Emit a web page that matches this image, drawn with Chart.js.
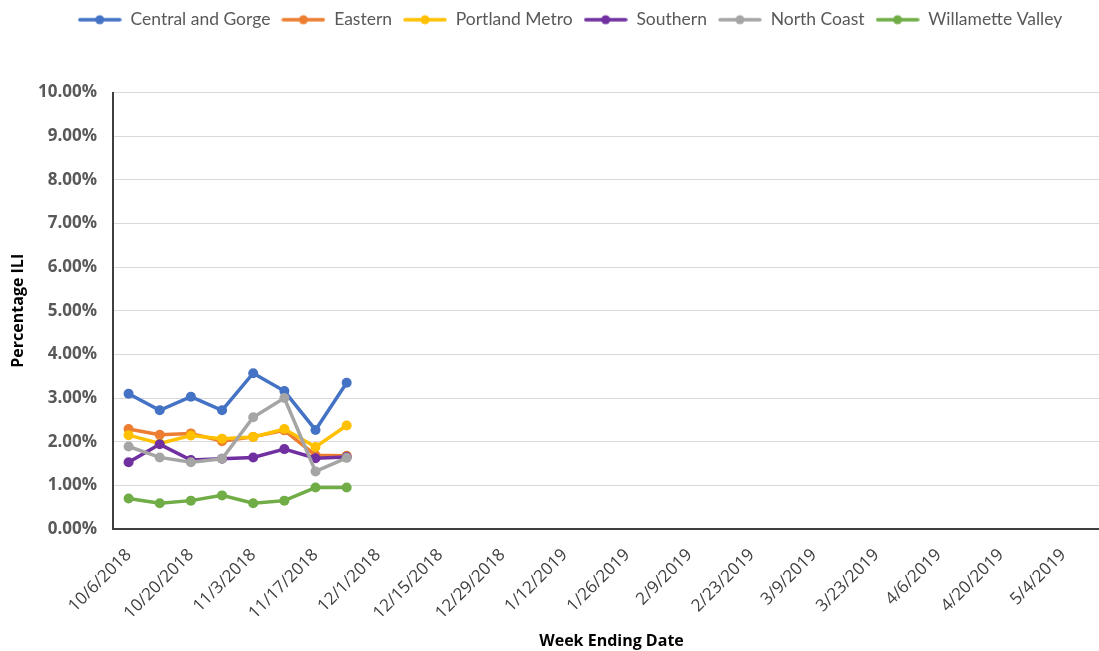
<!DOCTYPE html>
<html>
<head>
<meta charset="utf-8">
<script src="https://cdn.jsdelivr.net/npm/chart.js@4/dist/chart.umd.min.js"></script>
<style>
  html, body { margin: 0; padding: 0; background: #fff; overflow: hidden; }
  #wrap { width: 1140px; height: 651px; position: relative; }
</style>
</head>
<body>
<div id="wrap"><canvas id="c" width="1140" height="651"></canvas></div>
<script>
// Week ending dates (categories)
const weeks = [
  "10/6/2018","10/13/2018","10/20/2018","10/27/2018","11/3/2018","11/10/2018","11/17/2018","11/24/2018",
  "12/1/2018","12/8/2018","12/15/2018","12/22/2018","12/29/2018","1/5/2019","1/12/2019","1/19/2019",
  "1/26/2019","2/2/2019","2/9/2019","2/16/2019","2/23/2019","3/2/2019","3/9/2019","3/16/2019",
  "3/23/2019","3/30/2019","4/6/2019","4/13/2019","4/20/2019","4/27/2019","5/4/2019","5/11/2019"
];
// Percentage ILI by region
const centralGorge   = [3.10, 2.72, 3.03, 2.72, 3.57, 3.16, 2.27, 3.35];
const eastern        = [2.29, 2.16, 2.19, 2.01, 2.11, 2.26, 1.69, 1.68];
const portlandMetro  = [2.15, 1.96, 2.14, 2.07, 2.11, 2.29, 1.88, 2.37];
const southern       = [1.53, 1.94, 1.58, 1.61, 1.64, 1.83, 1.62, 1.65];
const northCoast     = [1.89, 1.64, 1.53, 1.61, 2.56, 3.00, 1.32, 1.63];
const willametteVal  = [0.70, 0.59, 0.65, 0.77, 0.59, 0.65, 0.95, 0.95];
const yTicks = [0,1,2,3,4,5,6,7,8,9,10];

const seriesNames = ["Central and Gorge","Eastern","Portland Metro","Southern","North Coast","Willamette Valley"];
const seriesData = [centralGorge, eastern, portlandMetro, southern, northCoast, willametteVal];
const colors = ["#4472C4","#ED7D31","#FFC000","#7030A0","#A5A5A5","#70AD47"];

function legendMarker(color) {
  const cv = document.createElement('canvas');
  cv.width = 44; cv.height = 12;
  const g = cv.getContext('2d');
  g.strokeStyle = color; g.lineWidth = 3.5; g.lineCap = 'round';
  g.beginPath(); g.moveTo(2, 6); g.lineTo(42, 6); g.stroke();
  g.fillStyle = color;
  g.beginPath(); g.arc(22, 6, 4.5, 0, Math.PI*2); g.fill();
  return cv;
}
const markers = colors.map(legendMarker);

const datasets = seriesNames.map((name, i) => ({
  label: name,
  data: seriesData[i],
  borderColor: colors[i],
  backgroundColor: colors[i],
  borderWidth: 3.5,
  pointRadius: 5,
  pointHoverRadius: 5,
  pointBorderWidth: 0,
  tension: 0,
  fill: false,
  order: seriesNames.length - i
}));

const legendSpace = {
  id: 'legendSpace',
  beforeInit(chart) {
    const origFit = chart.legend.fit;
    chart.legend.fit = function() {
      origFit.bind(chart.legend)();
      this.height += 54;
    };
  },
  afterLayout(chart) {
    chart.legend.left += 15;
    chart.legend.right += 15;
  }
};

new Chart(document.getElementById('c'), {
  type: 'line',
  data: { labels: weeks, datasets },
  plugins: [legendSpace],
  options: {
    responsive: false,
    animation: false,
    layout: { padding: { top: 0, left: 0, right: 30, bottom: 0 } },
    plugins: {
      tooltip: { enabled: false },
      legend: {
        position: 'top',
        labels: {
          usePointStyle: true,
          pointStyleWidth: 44,
          padding: 11,
          color: '#595959',
          font: { family: 'Lato', size: 17.5 },
          sort: (a, b) => a.datasetIndex - b.datasetIndex,
          generateLabels(chart) {
            return seriesNames.map((n, i) => ({
              text: n, datasetIndex: i, pointStyle: markers[i],
              fillStyle: colors[i], strokeStyle: colors[i], lineWidth: 0,
              fontColor: '#595959', hidden: false
            }));
          }
        }
      }
    },
    scales: {
      x: {
        offset: true,
        afterFit(scale) { scale.height = 122; },
        grid: { display: false, drawTicks: false },
        border: { display: true, color: '#404040', width: 2 },
        ticks: {
          autoSkip: false,
          maxRotation: 45, minRotation: 45,
          padding: 16,
          color: '#404040',
          font: { family: 'Open Sans', size: 17 },
          callback: function(v, i) { return i % 2 === 0 ? this.getLabelForValue(v) : ''; }
        },
        title: {
          display: true, text: 'Week Ending Date',
          color: '#000', font: { family: 'Open Sans', size: 16, weight: 'bold' },
          padding: { top: 8, bottom: 0 }
        }
      },
      y: {
        min: 0, max: 10,
        afterBuildTicks(scale) { scale.ticks = yTicks.map(v => ({ value: v })); },
        afterFit(scale) { scale.width = 113; },
        grid: { color: '#D9D9D9', lineWidth: 1, drawTicks: false },
        border: { display: true, color: '#404040', width: 2 },
        ticks: {
          padding: 16,
          color: '#595959',
          font: { family: 'Open Sans', size: 17, weight: 'bold' },
          callback: v => v.toFixed(2) + '%'
        },
        title: {
          display: true, text: 'Percentage ILI',
          color: '#000', font: { family: 'Open Sans', size: 16, weight: 'bold' },
          padding: { top: 9, bottom: 0 }
        }
      }
    }
  }
});
</script>
</body>
</html>
